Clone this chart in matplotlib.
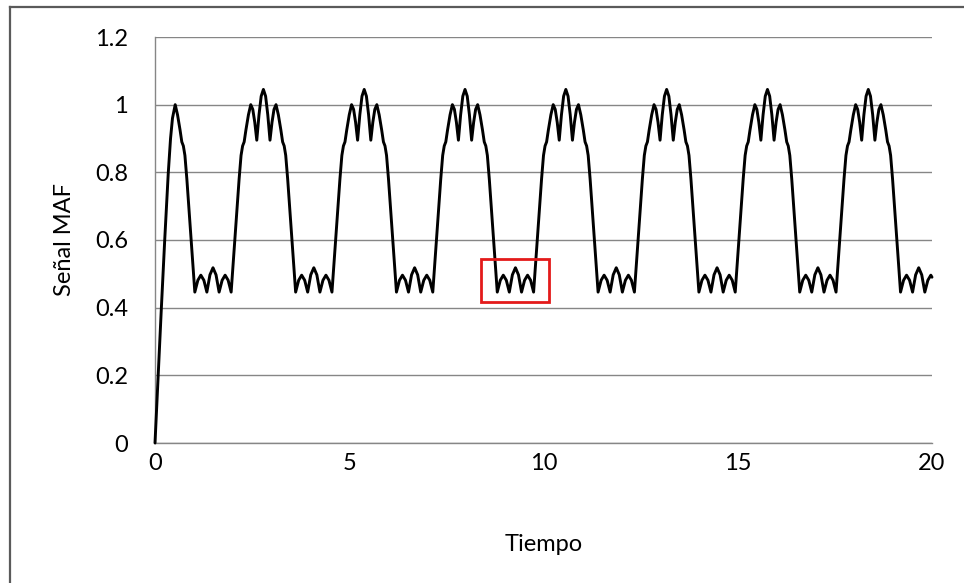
import matplotlib
matplotlib.use("Agg")
import matplotlib.pyplot as plt
from matplotlib.patches import Rectangle
from matplotlib.lines import Line2D

# Moving-average-filter output sampled over time (one pulse period per line)
tiempo = [
    0.0, 0.16, 0.25, 0.34, 0.40, 0.45, 0.52, 0.58, 0.645, 0.69, 0.73, 0.77, 0.82, 0.885, 0.955, 1.025,
    1.103, 1.18, 1.258, 1.335, 1.414, 1.493, 1.571, 1.65, 1.728, 1.805, 1.883,
    1.96, 2.03, 2.10, 2.165, 2.215, 2.255, 2.295, 2.34, 2.405, 2.465, 2.517, 2.568, 2.62, 2.677, 2.733, 2.79,
    2.847, 2.903, 2.96, 3.012, 3.063, 3.115, 3.175, 3.24, 3.285, 3.325, 3.365, 3.415, 3.48, 3.55, 3.62,
    3.698, 3.775, 3.853, 3.93, 4.009, 4.088, 4.166, 4.245, 4.323, 4.40, 4.478,
    4.555, 4.625, 4.695, 4.76, 4.81, 4.85, 4.89, 4.935, 5.00, 5.06, 5.112, 5.163, 5.215, 5.272, 5.328, 5.385,
    5.442, 5.498, 5.555, 5.607, 5.658, 5.71, 5.77, 5.835, 5.88, 5.92, 5.96, 6.01, 6.075, 6.145, 6.215,
    6.293, 6.37, 6.448, 6.525, 6.604, 6.683, 6.761, 6.84, 6.918, 6.995, 7.073,
    7.15, 7.22, 7.29, 7.355, 7.405, 7.445, 7.485, 7.53, 7.595, 7.655, 7.707, 7.758, 7.81, 7.867, 7.923, 7.98,
    8.037, 8.093, 8.15, 8.202, 8.253, 8.305, 8.365, 8.43, 8.475, 8.515, 8.555, 8.605, 8.67, 8.74, 8.81,
    8.888, 8.965, 9.043, 9.12, 9.199, 9.278, 9.356, 9.435, 9.513, 9.59, 9.668,
    9.745, 9.815, 9.885, 9.95, 10.00, 10.04, 10.08, 10.125, 10.19, 10.25, 10.302, 10.353, 10.405, 10.462, 10.518, 10.575,
    10.632, 10.688, 10.745, 10.797, 10.848, 10.90, 10.96, 11.025, 11.07, 11.11, 11.15, 11.20, 11.265, 11.335, 11.405,
    11.483, 11.56, 11.638, 11.715, 11.794, 11.873, 11.951, 12.03, 12.108, 12.185, 12.263,
    12.34, 12.41, 12.48, 12.545, 12.595, 12.635, 12.675, 12.72, 12.785, 12.845, 12.897, 12.948, 13.00, 13.057, 13.113, 13.17,
    13.227, 13.283, 13.34, 13.392, 13.443, 13.495, 13.555, 13.62, 13.665, 13.705, 13.745, 13.795, 13.86, 13.93, 14.00,
    14.078, 14.155, 14.233, 14.31, 14.389, 14.468, 14.546, 14.625, 14.703, 14.78, 14.858,
    14.935, 15.005, 15.075, 15.14, 15.19, 15.23, 15.27, 15.315, 15.38, 15.44, 15.492, 15.543, 15.595, 15.652, 15.708, 15.765,
    15.822, 15.878, 15.935, 15.987, 16.038, 16.09, 16.15, 16.215, 16.26, 16.30, 16.34, 16.39, 16.455, 16.525, 16.595,
    16.673, 16.75, 16.828, 16.905, 16.984, 17.063, 17.141, 17.22, 17.298, 17.375, 17.453,
    17.53, 17.60, 17.67, 17.735, 17.785, 17.825, 17.865, 17.91, 17.975, 18.035, 18.087, 18.138, 18.19, 18.247, 18.303, 18.36,
    18.417, 18.473, 18.53, 18.582, 18.633, 18.685, 18.745, 18.81, 18.855, 18.895, 18.935, 18.985, 19.05, 19.12, 19.19,
    19.268, 19.345, 19.423, 19.50, 19.579, 19.658, 19.736, 19.815, 19.893, 19.97, 20.0,
]

senal = [
    0.0, 0.39, 0.60, 0.795, 0.90, 0.96, 1.0, 0.97, 0.925, 0.89, 0.878, 0.85, 0.78, 0.675, 0.56, 0.446,
    0.481, 0.496, 0.481, 0.446, 0.497, 0.518, 0.497, 0.446, 0.481, 0.496, 0.481,
    0.446, 0.56, 0.675, 0.78, 0.85, 0.878, 0.89, 0.925, 0.97, 1.0, 0.986, 0.948, 0.895, 0.97, 1.025, 1.045,
    1.025, 0.97, 0.895, 0.948, 0.986, 1.0, 0.97, 0.925, 0.89, 0.878, 0.85, 0.78, 0.675, 0.56, 0.446,
    0.481, 0.496, 0.481, 0.446, 0.497, 0.518, 0.497, 0.446, 0.481, 0.496, 0.481,
    0.446, 0.56, 0.675, 0.78, 0.85, 0.878, 0.89, 0.925, 0.97, 1.0, 0.986, 0.948, 0.895, 0.97, 1.025, 1.045,
    1.025, 0.97, 0.895, 0.948, 0.986, 1.0, 0.97, 0.925, 0.89, 0.878, 0.85, 0.78, 0.675, 0.56, 0.446,
    0.481, 0.496, 0.481, 0.446, 0.497, 0.518, 0.497, 0.446, 0.481, 0.496, 0.481,
    0.446, 0.56, 0.675, 0.78, 0.85, 0.878, 0.89, 0.925, 0.97, 1.0, 0.986, 0.948, 0.895, 0.97, 1.025, 1.045,
    1.025, 0.97, 0.895, 0.948, 0.986, 1.0, 0.97, 0.925, 0.89, 0.878, 0.85, 0.78, 0.675, 0.56, 0.446,
    0.481, 0.496, 0.481, 0.446, 0.497, 0.518, 0.497, 0.446, 0.481, 0.496, 0.481,
    0.446, 0.56, 0.675, 0.78, 0.85, 0.878, 0.89, 0.925, 0.97, 1.0, 0.986, 0.948, 0.895, 0.97, 1.025, 1.045,
    1.025, 0.97, 0.895, 0.948, 0.986, 1.0, 0.97, 0.925, 0.89, 0.878, 0.85, 0.78, 0.675, 0.56, 0.446,
    0.481, 0.496, 0.481, 0.446, 0.497, 0.518, 0.497, 0.446, 0.481, 0.496, 0.481,
    0.446, 0.56, 0.675, 0.78, 0.85, 0.878, 0.89, 0.925, 0.97, 1.0, 0.986, 0.948, 0.895, 0.97, 1.025, 1.045,
    1.025, 0.97, 0.895, 0.948, 0.986, 1.0, 0.97, 0.925, 0.89, 0.878, 0.85, 0.78, 0.675, 0.56, 0.446,
    0.481, 0.496, 0.481, 0.446, 0.497, 0.518, 0.497, 0.446, 0.481, 0.496, 0.481,
    0.446, 0.56, 0.675, 0.78, 0.85, 0.878, 0.89, 0.925, 0.97, 1.0, 0.986, 0.948, 0.895, 0.97, 1.025, 1.045,
    1.025, 0.97, 0.895, 0.948, 0.986, 1.0, 0.97, 0.925, 0.89, 0.878, 0.85, 0.78, 0.675, 0.56, 0.446,
    0.481, 0.496, 0.481, 0.446, 0.497, 0.518, 0.497, 0.446, 0.481, 0.496, 0.481,
    0.446, 0.56, 0.675, 0.78, 0.85, 0.878, 0.89, 0.925, 0.97, 1.0, 0.986, 0.948, 0.895, 0.97, 1.025, 1.045,
    1.025, 0.97, 0.895, 0.948, 0.986, 1.0, 0.97, 0.925, 0.89, 0.878, 0.85, 0.78, 0.675, 0.56, 0.446,
    0.481, 0.496, 0.481, 0.446, 0.497, 0.518, 0.497, 0.446, 0.481, 0.496, 0.49,
]

x_ticks = [0, 5, 10, 15, 20]
y_ticks = [0, 0.2, 0.4, 0.6, 0.8, 1.0, 1.2]
y_tick_labels = ["0", "0.2", "0.4", "0.6", "0.8", "1", "1.2"]

# highlighted ripple region (time span, value span)
zona_t = [8.39, 10.14]
zona_v = [0.417, 0.545]

plt.rcParams["font.family"] = ["Lato", "DejaVu Sans"]

W, H = 964, 583
fig = plt.figure(figsize=(W / 100, H / 100), dpi=100)
fig.patch.set_facecolor("white")

ax = fig.add_axes([155 / W, 1 - 443 / H, (932 - 155) / W, (443 - 37) / H])
ax.set_xlim(0, 20)
ax.set_ylim(0, 1.2)

grid_color = "#868686"
ax.set_yticks(y_ticks)
ax.set_yticklabels(y_tick_labels)
ax.set_xticks(x_ticks)
ax.set_xticklabels([str(v) for v in x_ticks])
ax.yaxis.grid(True, color=grid_color, linewidth=1.0)
ax.set_axisbelow(True)
for side in ("top", "right"):
    ax.spines[side].set_visible(False)
for side in ("left", "bottom"):
    ax.spines[side].set_color(grid_color)
    ax.spines[side].set_linewidth(1.0)
ax.tick_params(axis="both", length=0, labelsize=17, colors="black")
ax.tick_params(axis="y", pad=19.5)
ax.tick_params(axis="x", pad=7.5)

ax.plot(tiempo, senal, color="black", linewidth=2.1, solid_joinstyle="round",
        solid_capstyle="round", clip_on=False, zorder=3)

ax.add_patch(Rectangle((zona_t[0], zona_v[0]), zona_t[1] - zona_t[0], zona_v[1] - zona_v[0],
                       fill=False, edgecolor="#e31a1a", linewidth=2.0, zorder=4))

ax.set_xlabel("Tiempo", fontsize=17, labelpad=43)
ax.set_ylabel("Señal MAF", fontsize=17, labelpad=14)

# outer chart frame (left and top edges)
frame_color = "#5a5a5a"
fig.add_artist(Line2D([10 / W, 10 / W], [0, 1 - 7 / H], transform=fig.transFigure,
                      color=frame_color, linewidth=1.6))
fig.add_artist(Line2D([10 / W, 1], [1 - 7 / H, 1 - 7 / H], transform=fig.transFigure,
                      color=frame_color, linewidth=1.6))

fig.savefig("out.png", dpi=100, facecolor="white")
